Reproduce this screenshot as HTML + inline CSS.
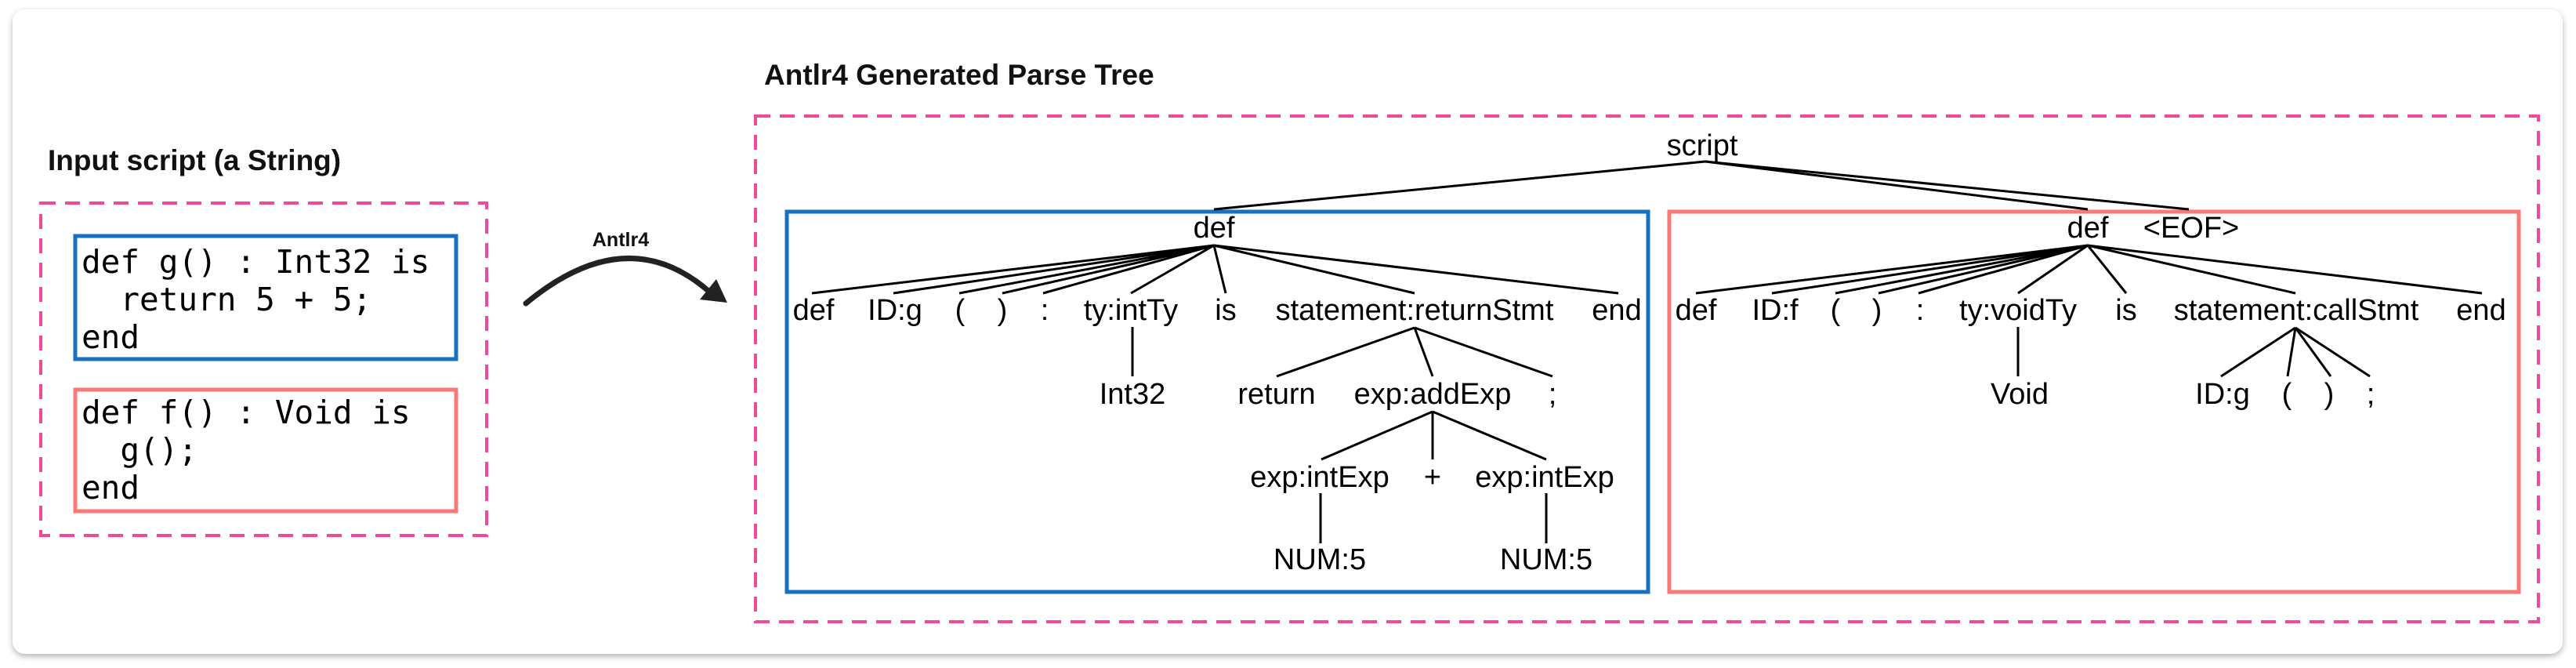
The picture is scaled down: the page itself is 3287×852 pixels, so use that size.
<!DOCTYPE html>
<html><head><meta charset="utf-8"><style>
html,body{margin:0;padding:0;background:#fff;}
svg{display:block;}
.t{font-family:"Liberation Sans",Arial,sans-serif;font-size:38px;fill:#000;text-anchor:middle;}
.b{font-family:"Liberation Sans",Arial,sans-serif;font-weight:bold;fill:#111;}
.m{font-family:"DejaVu Sans Mono","Liberation Mono",monospace;font-size:41px;fill:#000;white-space:pre;}
.l{stroke:#000;stroke-width:3;fill:none;}
</style></head><body>
<svg width="3287" height="852" viewBox="0 0 3287 852" xmlns="http://www.w3.org/2000/svg">
<defs><filter id="sh" x="-2%" y="-5%" width="104%" height="110%"><feDropShadow dx="0" dy="3" stdDeviation="4" flood-color="#000" flood-opacity="0.3"/></filter></defs>
<rect x="0" y="0" width="3287" height="852" fill="#fff"/>
<rect x="16" y="12" width="3254" height="822" rx="16" fill="#fff" filter="url(#sh)"/>

<text class="b" x="61" y="217" font-size="37">Input script (a String)</text>
<rect x="52" y="259" width="569" height="424" fill="none" stroke="#ef4a9c" stroke-width="4" stroke-dasharray="19,12"/>
<rect x="96" y="301" width="486" height="157" fill="none" stroke="#1771c0" stroke-width="5"/>
<text class="m" x="104" y="348">def g() : Int32 is</text>
<text class="m" x="104" y="396">  return 5 + 5;</text>
<text class="m" x="104" y="444">end</text>
<rect x="96" y="497" width="486" height="155" fill="none" stroke="#f87a78" stroke-width="5"/>
<text class="m" x="104" y="540">def f() : Void is</text>
<text class="m" x="104" y="588">  g();</text>
<text class="m" x="104" y="636">end</text>

<text class="b" x="792" y="314" font-size="25" text-anchor="middle">Antlr4</text>
<path d="M671 387 Q800 280 905 372" stroke="#222" stroke-width="7" fill="none" stroke-linecap="round"/>
<polygon points="928,386 893,382 914,356" fill="#222"/>

<text class="b" x="975" y="108" font-size="37">Antlr4 Generated Parse Tree</text>
<rect x="964" y="148" width="2275" height="645" fill="none" stroke="#ef4a9c" stroke-width="4" stroke-dasharray="19,12"/>
<rect x="1004" y="270" width="1099" height="485" fill="none" stroke="#1771c0" stroke-width="5"/>
<rect x="2130" y="270" width="1084" height="485" fill="none" stroke="#f87a78" stroke-width="5"/>

<!-- root -->
<text class="t" x="2172" y="198">script</text>
<path class="l" d="M2176 206 L1549 267 M2176 206 L2664 267 M2176 206 L2793 267"/>

<!-- left def -->
<text class="t" x="1549" y="303">def</text>
<path class="l" d="M1549 313 L1036 374 M1549 313 L1140 374 M1549 313 L1224 374 M1549 313 L1279 374 M1549 313 L1331 374 M1549 313 L1443 374 M1549 313 L1564 374 M1549 313 L1805 374 M1549 313 L2065 374"/>
<text class="t" x="1038" y="408">def</text>
<text class="t" x="1142" y="408">ID:g</text>
<text class="t" x="1225" y="408">(</text>
<text class="t" x="1279" y="408">)</text>
<text class="t" x="1333" y="408">:</text>
<text class="t" x="1443" y="408">ty:intTy</text>
<text class="t" x="1564" y="408">is</text>
<text class="t" x="1805" y="408">statement:returnStmt</text>
<text class="t" x="2063" y="408">end</text>
<path class="l" d="M1445 417 L1445 480 M1805 418 L1629 480 M1805 418 L1828 480 M1805 418 L1981 480"/>
<text class="t" x="1445" y="515">Int32</text>
<text class="t" x="1629" y="515">return</text>
<text class="t" x="1828" y="515">exp:addExp</text>
<text class="t" x="1981" y="515">;</text>
<path class="l" d="M1828 525 L1686 586 M1828 525 L1828 586 M1828 525 L1973 586"/>
<text class="t" x="1684" y="621">exp:intExp</text>
<text class="t" x="1828" y="621">+</text>
<text class="t" x="1971" y="621">exp:intExp</text>
<path class="l" d="M1685 629 L1685 693 M1973 629 L1973 693"/>
<text class="t" x="1684" y="726">NUM:5</text>
<text class="t" x="1973" y="726">NUM:5</text>

<!-- right def -->
<text class="t" x="2664" y="303">def</text>
<text class="t" x="2796" y="303">&lt;EOF&gt;</text>
<path class="l" d="M2664 313 L2164 374 M2664 313 L2261 374 M2664 313 L2342 374 M2664 313 L2397 374 M2664 313 L2448 374 M2664 313 L2575 374 M2664 313 L2713 374 M2664 313 L2929 374 M2664 313 L3167 374"/>
<text class="t" x="2164" y="408">def</text>
<text class="t" x="2265" y="408">ID:f</text>
<text class="t" x="2342" y="408">(</text>
<text class="t" x="2395" y="408">)</text>
<text class="t" x="2450" y="408">:</text>
<text class="t" x="2575" y="408">ty:voidTy</text>
<text class="t" x="2713" y="408">is</text>
<text class="t" x="2930" y="408">statement:callStmt</text>
<text class="t" x="3166" y="408">end</text>
<path class="l" d="M2575 417 L2575 480 M2929 418 L2834 480 M2929 418 L2919 480 M2929 418 L2974 480 M2929 418 L3024 480"/>
<text class="t" x="2577" y="515">Void</text>
<text class="t" x="2836" y="515">ID:g</text>
<text class="t" x="2918" y="515">(</text>
<text class="t" x="2972" y="515">)</text>
<text class="t" x="3025" y="515">;</text>
</svg>
</body></html>
